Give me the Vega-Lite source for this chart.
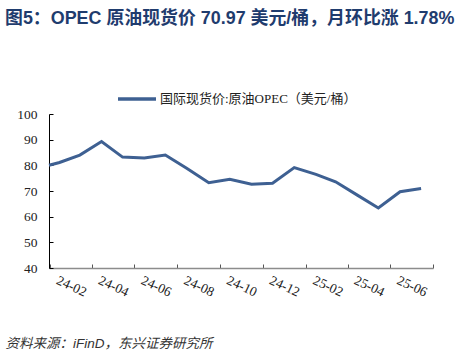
{
  "$schema": "https://vega.github.io/schema/vega-lite/v6.json",
  "width": 384,
  "height": 154,
  "autosize": {"type": "none"},
  "padding": {"left": 49, "top": 114, "right": 33, "bottom": 89},
  "background": "white",
  "title": {
    "text": "图5：OPEC 原油现货价 70.97 美元/桶，月环比涨 1.78%",
    "anchor": "start",
    "frame": "group",
    "dx": -44,
    "dy": -46,
    "font": "Liberation Sans, Noto Sans CJK SC",
    "fontSize": 17.9,
    "fontWeight": "bold",
    "color": "#1F3C6E"
  },
  "config": {
    "view": {"stroke": null},
    "axis": {"grid": false}
  },
  "data": {
    "values": [
      {"date": "2024-01-31", "price": 80.04, "series": "国际现货价:原油OPEC（美元/桶）"},
      {"date": "2024-02-15", "price": 81.1, "series": "国际现货价:原油OPEC（美元/桶）"},
      {"date": "2024-03-15", "price": 84.0, "series": "国际现货价:原油OPEC（美元/桶）"},
      {"date": "2024-04-15", "price": 89.3, "series": "国际现货价:原油OPEC（美元/桶）"},
      {"date": "2024-05-15", "price": 83.2, "series": "国际现货价:原油OPEC（美元/桶）"},
      {"date": "2024-06-15", "price": 82.9, "series": "国际现货价:原油OPEC（美元/桶）"},
      {"date": "2024-07-15", "price": 84.0, "series": "国际现货价:原油OPEC（美元/桶）"},
      {"date": "2024-08-15", "price": 78.8, "series": "国际现货价:原油OPEC（美元/桶）"},
      {"date": "2024-09-15", "price": 73.2, "series": "国际现货价:原油OPEC（美元/桶）"},
      {"date": "2024-10-15", "price": 74.6, "series": "国际现货价:原油OPEC（美元/桶）"},
      {"date": "2024-11-15", "price": 72.6, "series": "国际现货价:原油OPEC（美元/桶）"},
      {"date": "2024-12-15", "price": 73.0, "series": "国际现货价:原油OPEC（美元/桶）"},
      {"date": "2025-01-15", "price": 79.1, "series": "国际现货价:原油OPEC（美元/桶）"},
      {"date": "2025-02-15", "price": 76.5, "series": "国际现货价:原油OPEC（美元/桶）"},
      {"date": "2025-03-15", "price": 73.6, "series": "国际现货价:原油OPEC（美元/桶）"},
      {"date": "2025-04-15", "price": 68.4, "series": "国际现货价:原油OPEC（美元/桶）"},
      {"date": "2025-05-15", "price": 63.4, "series": "国际现货价:原油OPEC（美元/桶）"},
      {"date": "2025-06-15", "price": 69.73, "series": "国际现货价:原油OPEC（美元/桶）"},
      {"date": "2025-07-15", "price": 70.97, "series": "国际现货价:原油OPEC（美元/桶）"}
    ]
  },
  "mark": {"type": "line", "strokeWidth": 3, "strokeJoin": "miter"},
  "encoding": {
    "x": {
      "field": "date",
      "type": "temporal",
      "scale": {
        "type": "utc",
        "domain": [
          {"year": 2024, "month": 1, "date": 31, "utc": true},
          {"year": 2025, "month": 8, "date": 1, "utc": true}
        ]
      },
      "axis": {
        "values": [
          {"year": 2024, "month": 2, "date": 1, "utc": true},
          {"year": 2024, "month": 4, "date": 1, "utc": true},
          {"year": 2024, "month": 6, "date": 1, "utc": true},
          {"year": 2024, "month": 8, "date": 1, "utc": true},
          {"year": 2024, "month": 10, "date": 1, "utc": true},
          {"year": 2024, "month": 12, "date": 1, "utc": true},
          {"year": 2025, "month": 2, "date": 1, "utc": true},
          {"year": 2025, "month": 4, "date": 1, "utc": true},
          {"year": 2025, "month": 6, "date": 1, "utc": true},
          {"year": 2025, "month": 8, "date": 1, "utc": true}
        ],
        "labelExpr": "utcmonth(datum.value) == 7 && utcyear(datum.value) == 2025 ? '' : utcFormat(datum.value, '%y-%m')",
        "labelAngle": 25,
        "labelAlign": "left",
        "labelBaseline": "top",
        "labelOffset": 10,
        "labelPadding": 9,
        "labelFont": "Liberation Serif",
        "labelFontSize": 13.5,
        "labelColor": "#222222",
        "labelOverlap": false,
        "domainColor": "#8C8C8C",
        "domainWidth": 1.5,
        "tickColor": "#555555",
        "tickSize": -4,
        "title": "资料来源：iFinD，东兴证券研究所",
        "titleFont": "Liberation Sans, Noto Sans CJK SC",
        "titleFontSize": 13.5,
        "titleFontStyle": "italic",
        "titleFontWeight": "normal",
        "titleColor": "#333333",
        "titleAlign": "left",
        "titleAnchor": "start",
        "titleBaseline": "alphabetic",
        "titleX": -44,
        "titleY": 79
      }
    },
    "y": {
      "field": "price",
      "type": "quantitative",
      "scale": {"domain": [40, 100], "nice": false, "zero": false},
      "axis": {
        "values": [40, 50, 60, 70, 80, 90, 100],
        "labelFont": "Liberation Serif",
        "labelFontSize": 13.5,
        "labelColor": "#222222",
        "labelPadding": 16,
        "domainColor": "#000000",
        "domainWidth": 1,
        "tickColor": "#000000",
        "tickSize": -4,
        "title": null
      }
    },
    "color": {
      "field": "series",
      "type": "nominal",
      "scale": {"range": ["#3E6092"]},
      "legend": {
        "title": null,
        "orient": "none",
        "legendX": 67,
        "legendY": -36,
        "symbolType": "stroke",
        "symbolSize": 1444,
        "symbolStrokeWidth": 3.5,
        "labelFont": "Liberation Serif, Noto Sans CJK SC",
        "labelFontSize": 13,
        "labelLimit": 400,
        "labelColor": "#222222",
        "labelOffset": 2
      }
    }
  }
}
